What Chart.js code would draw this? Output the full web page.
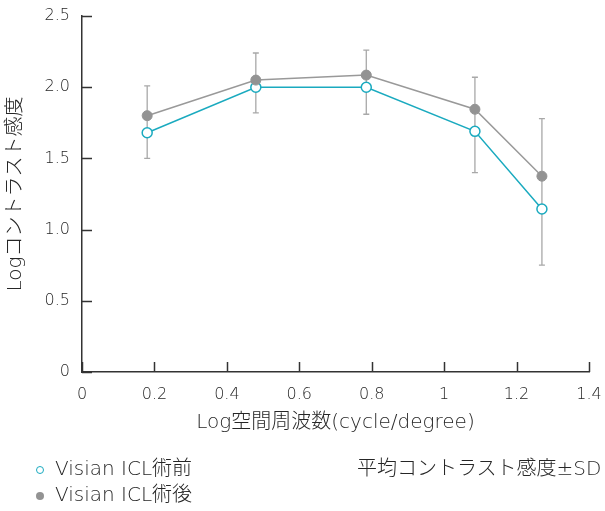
<!DOCTYPE html>
<html>
<head>
<meta charset="utf-8">
<script src="https://cdn.jsdelivr.net/npm/chart.js@4/dist/chart.umd.min.js"></script>
<style>
  html, body { margin: 0; padding: 0; background: #fff; }
  #wrap { position: relative; width: 605px; height: 511px; font-family: 'DejaVu Sans', 'Noto Sans CJK JP', sans-serif; font-weight: 300; color: #262626; }
  #c { position: absolute; left: 0; top: 0; }
  .leg { position: absolute; font-size: 20px; line-height: 24px; white-space: nowrap; }
  .dot { position: absolute; width: 8px; height: 8px; border-radius: 50%; box-sizing: border-box; }
</style>
</head>
<body>
<div id="wrap">
  <canvas id="c" width="605" height="511"></canvas>
  <div class="dot" style="left:36px;top:466px;border:1.5px solid #1aaabf;background:#fff;"></div>
  <div class="leg" style="left:55px;top:456px;">Visian ICL術前</div>
  <div class="dot" style="left:36px;top:492px;background:#939393;"></div>
  <div class="leg" style="left:55px;top:482px;">Visian ICL術後</div>
  <div class="leg" style="left:357px;top:456px;">平均コントラスト感度±SD</div>
</div>
<script>
const xValues   = [0.18, 0.48, 0.785, 1.085, 1.27];
const preMean   = [1.68, 2.00, 2.00, 1.69, 1.145];
const postMean  = [1.80, 2.05, 2.085, 1.845, 1.375];
const preLower  = [1.50, 1.82, 1.81, 1.40, 0.75];
const postUpper = [2.01, 2.24, 2.26, 2.07, 1.78];
const xTickLabels = ['0', '0.2', '0.4', '0.6', '0.8', '1', '1.2', '1.4'];
const yTickLabels = ['0', '0.5', '1.0', '1.5', '2.0', '2.5'];
const seriesNames = ['Visian ICL術前', 'Visian ICL術後'];
const xTitle = 'Log空間周波数(cycle/degree)';
const yTitle = 'Logコントラスト感度';

const FONT = "'DejaVu Sans', 'Noto Sans CJK JP', sans-serif";
const TEXT = '#262626';

const errorBars = {
  id: 'errorBars',
  beforeDatasetsDraw(chart) {
    const {ctx, scales: {x, y}} = chart;
    ctx.save();
    ctx.strokeStyle = '#a8a8a8';
    ctx.lineWidth = 1.3;
    xValues.forEach((xv, i) => {
      const px = x.getPixelForValue(xv);
      const top = y.getPixelForValue(postUpper[i]);
      const bot = y.getPixelForValue(preLower[i]);
      ctx.beginPath();
      ctx.moveTo(px, top); ctx.lineTo(px, bot);
      ctx.moveTo(px - 3, top); ctx.lineTo(px + 3, top);
      ctx.moveTo(px - 3, bot); ctx.lineTo(px + 3, bot);
      ctx.stroke();
    });
    ctx.restore();
  }
};

const innerTicks = {
  id: 'innerTicks',
  afterDraw(chart) {
    const {ctx, scales: {x, y}} = chart;
    ctx.save();
    ctx.strokeStyle = '#333';
    ctx.lineWidth = 1.5;
    const by = y.getPixelForValue(0);
    const lx = x.getPixelForValue(0);
    x.ticks.forEach(t => {
      const px = Math.round(x.getPixelForValue(t.value)) + 0.5;
      ctx.beginPath(); ctx.moveTo(px, by); ctx.lineTo(px, by - 10); ctx.stroke();
    });
    y.ticks.forEach(t => {
      const py = Math.round(y.getPixelForValue(t.value)) + 0.5;
      ctx.beginPath(); ctx.moveTo(lx, py); ctx.lineTo(lx + 10, py); ctx.stroke();
    });
    ctx.restore();
  }
};

const toPts = arr => arr.map((v, i) => ({x: xValues[i], y: v}));

new Chart(document.getElementById('c'), {
  type: 'line',
  data: {
    datasets: [
      {
        label: seriesNames[1],
        data: toPts(postMean),
        borderColor: '#999999',
        backgroundColor: '#939393',
        pointBackgroundColor: '#939393',
        pointBorderColor: '#939393',
        pointRadius: 5,
        pointBorderWidth: 1,
        borderWidth: 1.5,
        tension: 0
      },
      {
        label: seriesNames[0],
        data: toPts(preMean),
        borderColor: '#1aaabf',
        backgroundColor: '#ffffff',
        pointBackgroundColor: '#ffffff',
        pointBorderColor: '#1aaabf',
        pointRadius: 5,
        pointBorderWidth: 1.5,
        borderWidth: 1.5,
        tension: 0
      }
    ]
  },
  options: {
    responsive: false,
    animation: false,
    events: [],
    layout: { padding: { top: 16, right: 16, bottom: 72, left: 0 } },
    plugins: { legend: { display: false }, tooltip: { enabled: false } },
    scales: {
      x: {
        type: 'linear',
        min: 0, max: 1.4,
        afterFit(s) { s.height = 67; s.paddingLeft = 0; s.paddingRight = 0; },
        afterBuildTicks(s) { s.ticks = xTickLabels.map(l => ({value: parseFloat(l)})); },
        grid: { display: false, drawTicks: false },
        border: { display: true, color: '#333', width: 1.5 },
        ticks: {
          padding: 13,
          color: TEXT,
          font: { family: FONT, size: 16, weight: 300 },
          maxRotation: 0,
          autoSkip: false,
          callback: (v, i) => xTickLabels[i]
        },
        title: { display: true, text: xTitle, color: TEXT, font: { family: FONT, size: 20, weight: 300 }, padding: { top: 4, bottom: 4 } }
      },
      y: {
        type: 'linear',
        min: 0, max: 2.5,
        afterFit(s) { s.width = 82; s.paddingTop = 0; s.paddingBottom = 0; },
        afterBuildTicks(s) { s.ticks = yTickLabels.map(l => ({value: parseFloat(l)})); },
        grid: { display: false, drawTicks: false },
        border: { display: true, color: '#333', width: 1.5 },
        ticks: {
          padding: 12,
          color: TEXT,
          font: { family: FONT, size: 16, weight: 300 },
          autoSkip: false,
          callback: (v, i) => yTickLabels[i]
        },
        title: { display: true, text: yTitle, color: TEXT, font: { family: FONT, size: 20, weight: 300 }, padding: { top: 4, bottom: 4 } }
      }
    }
  },
  plugins: [errorBars, innerTicks]
});
</script>
</body>
</html>
